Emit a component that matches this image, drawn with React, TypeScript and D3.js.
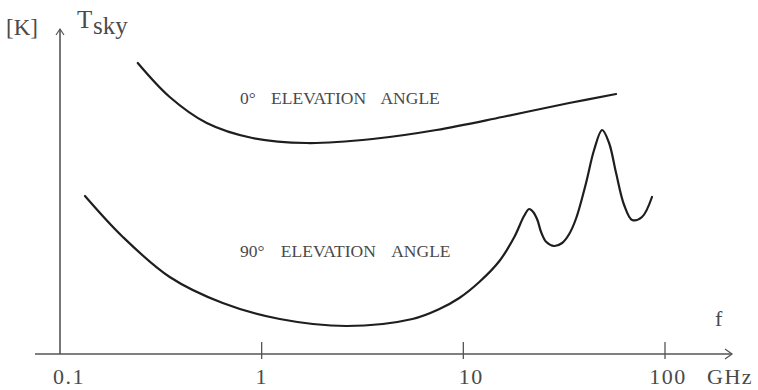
import React from "react";
import * as d3 from "d3";

// Frequency axis (GHz) and its labelled decades
const tickValues = [0.1, 1, 10, 100];
const tickLabels = ["0.1", "1", "10", "100"];

// Sky noise temperature, 0° elevation (horizon): frequency in GHz, temperature in K (relative)
const horizonFreq = [0.243, 0.35, 0.534, 0.9, 1.67, 3.54, 7.35, 15.6, 33.5, 57.2];
const horizonTemp = [291, 257, 231, 216, 211, 215, 224, 237, 251, 260];

// Sky noise temperature, 90° elevation (zenith), with the water-vapour and oxygen lines
const zenithFreq = [0.133, 0.205, 0.35, 0.641, 1.23, 2.64, 5.59, 7.61, 9.55, 12.0, 15.1, 17.9, 20.0, 21.2, 22.2, 23.3, 24.3, 25.8, 28.2, 30.9, 33.5, 36.3, 40.6, 44.5, 48.8, 52.8, 57.2, 62.7, 68.7, 76.9, 86.2];
const zenithTemp = [158, 117, 77, 51, 35, 28, 35, 45, 56, 72, 93, 117, 138, 145, 142, 134, 122, 112, 108, 111, 120, 136, 171, 204, 224, 211, 181, 149, 134, 137, 157];

const W = 758;
const H = 390;
const axisY = 354;
const axisX = 60;

const x = d3.scaleLog().domain([0.1, 100]).range([axisX, 665]);
const y = d3.scaleLinear().domain([0, 324]).range([axisY, 30]);

type Pt = [number, number];
const line = d3
  .line<Pt>()
  .x((d) => x(d[0]))
  .y((d) => y(d[1]))
  .curve(d3.curveCatmullRom.alpha(0.5));

const horizon: Pt[] = horizonFreq.map((f, i) => [f, horizonTemp[i]]);
const zenith: Pt[] = zenithFreq.map((f, i) => [f, zenithTemp[i]]);

const labelNudge = [9, 0, 8, 3];
const serif = "'Liberation Serif', 'Times New Roman', serif";
const ink = "#4a4a4a";
const axisInk = "#555";

export default function App() {
  const xEnd = 732;
  const yTop = 29;
  return (
    <svg
      width={W}
      height={H}
      viewBox={`0 0 ${W} ${H}`}
      style={{ position: "absolute", left: 0, top: 0, background: "#fff" }}
      fontFamily={serif}
    >
      {/* frequency axis with open arrowhead */}
      <line x1={35} y1={axisY} x2={xEnd} y2={axisY} stroke={axisInk} strokeWidth={1.6} />
      <polyline
        points={`${xEnd - 7},${axisY - 5} ${xEnd},${axisY} ${xEnd - 7},${axisY + 5}`}
        fill="none"
        stroke={axisInk}
        strokeWidth={1.3}
      />
      {/* temperature axis with open arrowhead */}
      <line x1={axisX} y1={axisY} x2={axisX} y2={yTop} stroke={axisInk} strokeWidth={1.6} />
      <polyline
        points={`${axisX - 4},${yTop + 6} ${axisX},${yTop} ${axisX + 4},${yTop + 6}`}
        fill="none"
        stroke={axisInk}
        strokeWidth={1.2}
      />

      {/* decade ticks */}
      {tickValues.map((t, i) =>
        i === 0 ? null : (
          <line key={`t${t}`} x1={x(t)} x2={x(t)} y1={342} y2={359} stroke={axisInk} strokeWidth={1.3} />
        )
      )}
      {tickValues.map((t, i) => (
        <text
          key={`l${t}`}
          x={x(t) + labelNudge[i]}
          y={384}
          textAnchor="middle"
          fontSize={22}
          letterSpacing={1.5}
          fill={ink}
        >
          {tickLabels[i]}
        </text>
      ))}
      <text x={707} y={384} fontSize={22} letterSpacing={1.5} fill={ink}>
        GHz
      </text>
      <text x={715} y={326} fontSize={22} fill={ink}>
        f
      </text>

      {/* axis title */}
      <text x={6} y={35} fontSize={23} fill={ink}>
        [K]
      </text>
      <text x={77} y={28} fontSize={25} fill={ink}>
        T
      </text>
      <text x={93} y={34} fontSize={25} fill={ink}>
        sky
      </text>

      {/* curves */}
      <path d={line(horizon) ?? ""} fill="none" stroke="#1e1e1e" strokeWidth={2.2} strokeLinecap="round" />
      <path d={line(zenith) ?? ""} fill="none" stroke="#1e1e1e" strokeWidth={2.2} strokeLinecap="round" />

      {/* curve labels */}
      <text x={240} y={104} fontSize={17.5} wordSpacing={11} fill={ink}>
        0° ELEVATION ANGLE
      </text>
      <text x={240} y={257} fontSize={17.5} wordSpacing={12} fill={ink}>
        90° ELEVATION ANGLE
      </text>
    </svg>
  );
}
